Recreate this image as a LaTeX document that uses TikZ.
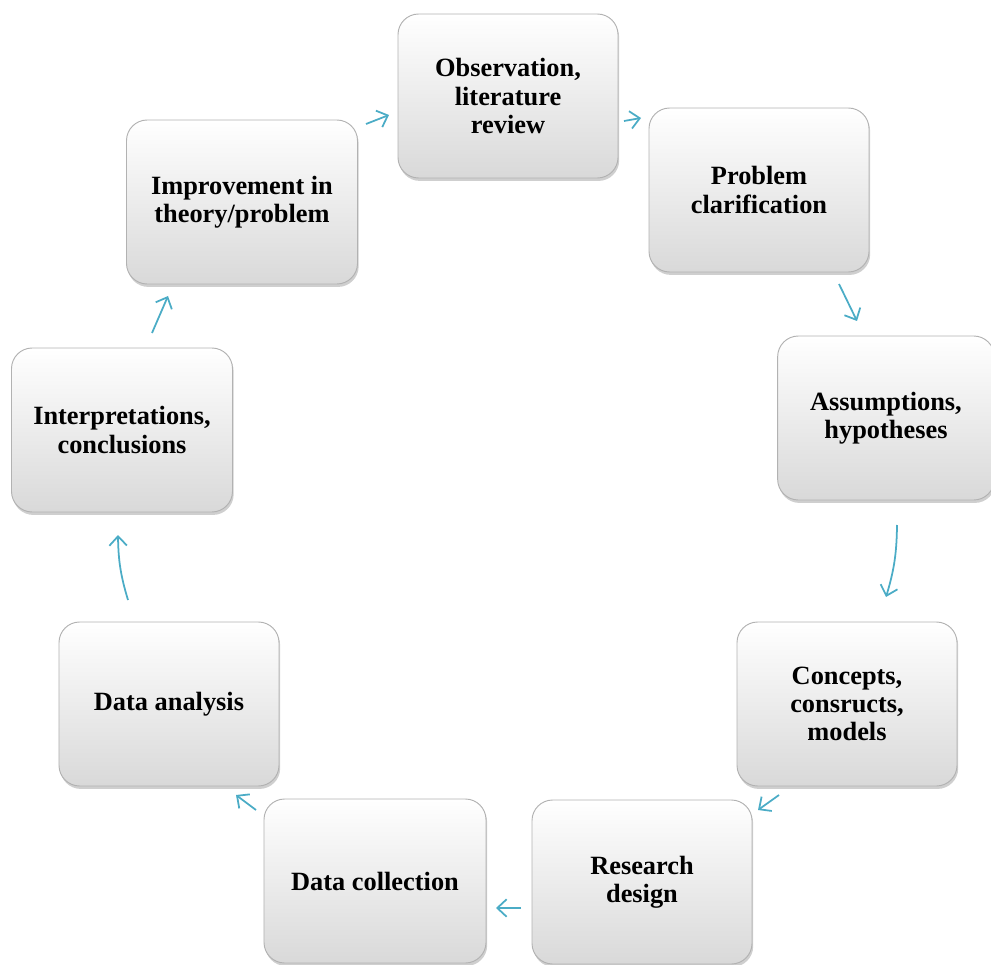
\documentclass[tikz,border=0pt]{standalone}
\usepackage{fontspec}
\setmainfont{Liberation Serif}
\usetikzlibrary{arrows.meta,shadows}
\definecolor{arr}{RGB}{75,172,198}
\begin{document}
\begin{tikzpicture}[x=0.03cm,y=-0.03cm,
  box/.style={rounded corners=0.62cm, minimum width=6.6cm, minimum height=4.92cm,
    draw=gray!60, line width=0.8pt, top color=white, bottom color=gray!30,
    drop shadow={shadow xshift=1pt, shadow yshift=-2.5pt, opacity=0.5, fill=gray!75},
    align=center, font=\fontsize{22.5}{24}\selectfont\bfseries, inner sep=4pt},
  conn/.style={draw=arr, line width=1.5pt, -{Straight Barb[length=8pt,width=15pt,line width=1.5pt]}}]
\useasboundingbox (0,0) rectangle (991,965);
\clip (0,0) rectangle (991,965);
\node[box] (obs) at (508,96) {Observation,\\literature\\review};
\node[box] (prob) at (759,190) {Problem\\clarification};
\node[box, minimum width=6.5cm] (ass) at (886,418) {Assumptions,\\hypotheses};
\node[box] (con) at (847,704) {Concepts,\\consructs,\\models};
\node[box] (res) at (642,882) {Research\\design};
\node[box, minimum width=6.66cm] (col) at (375,881) {Data collection};
\node[box] (ana) at (169,704) {Data analysis};
\node[box, minimum width=6.63cm] (int) at (122,430) {Interpretations,\\conclusions};
\node[box, minimum width=6.93cm] (imp) at (242,202) {Improvement in\\theory/problem};
% arrow end points
\coordinate (a1s) at (624,121); \coordinate (a1e) at (641,118);
\coordinate (a2s) at (839,284); \coordinate (a2e) at (857,321);
\coordinate (a3s) at (897,525); \coordinate (a3e) at (886,597);
\coordinate (a4s) at (779,795); \coordinate (a4e) at (758,810);
\coordinate (a5s) at (521,908); \coordinate (a5e) at (496,908);
\coordinate (a6s) at (256,810); \coordinate (a6e) at (236,795);
\coordinate (a7s) at (128,600); \coordinate (a7e) at (118,535);
\coordinate (a8s) at (152,333); \coordinate (a8e) at (168,296);
\coordinate (a9s) at (366,124); \coordinate (a9e) at (389,115);
\draw[conn] (a1s) -- (a1e);
\draw[conn] (a2s) -- (a2e);
\draw[conn] (a3s) to[bend left=8] (a3e);
\draw[conn] (a4s) -- (a4e);
\draw[conn] (a5s) -- (a5e);
\draw[conn] (a6s) -- (a6e);
\draw[conn] (a7s) to[bend left=8] (a7e);
\draw[conn] (a8s) -- (a8e);
\draw[conn] (a9s) -- (a9e);
\end{tikzpicture}
\end{document}
